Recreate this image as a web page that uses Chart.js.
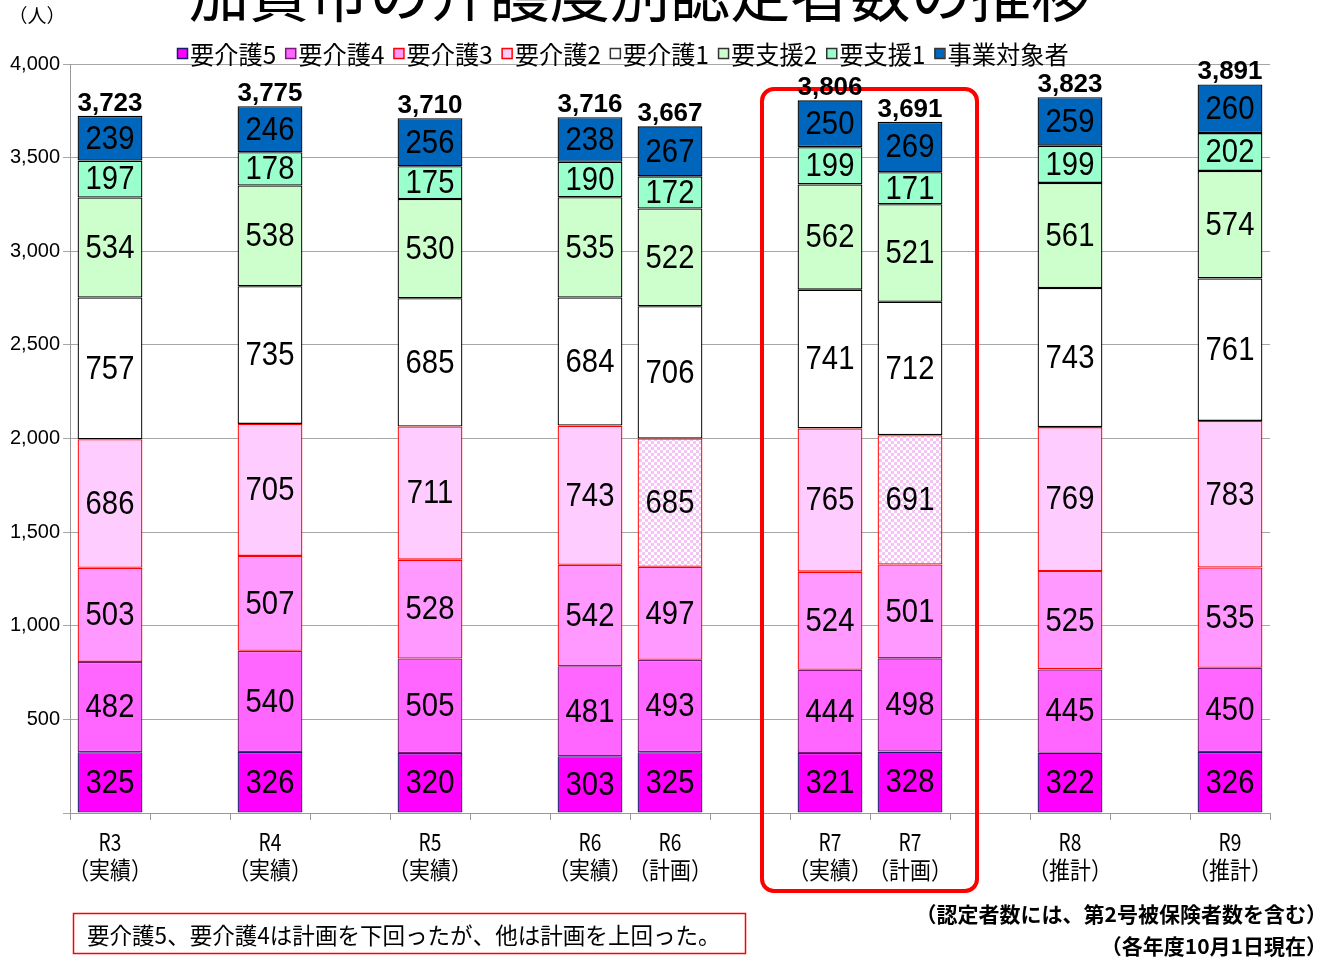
<!DOCTYPE html>
<html>
<head>
<meta charset="utf-8">
<script src="https://cdn.jsdelivr.net/npm/chart.js@4.4.1/dist/chart.umd.min.js"></script>
<style>
  html, body { margin: 0; padding: 0; background: #fff; }
</style>
</head>
<body>
<canvas id="kaigoChart" width="1333" height="962"></canvas>
<script>
// categories (empty strings are the gaps between years)
const categories = ['R3', '', 'R4', '', 'R5', '', 'R6', 'R6', '', 'R7', 'R7', '', 'R8', '', 'R9'];
const subLabels = ['（実績）', '', '（実績）', '', '（実績）', '', '（実績）', '（計画）', '', '（実績）', '（計画）', '', '（推計）', '', '（推計）'];

// series values, bottom to top
const kaigo5 = [325, null, 326, null, 320, null, 303, 325, null, 321, 328, null, 322, null, 326];
const kaigo4 = [482, null, 540, null, 505, null, 481, 493, null, 444, 498, null, 445, null, 450];
const kaigo3 = [503, null, 507, null, 528, null, 542, 497, null, 524, 501, null, 525, null, 535];
const kaigo2 = [686, null, 705, null, 711, null, 743, 685, null, 765, 691, null, 769, null, 783];
const kaigo1 = [757, null, 735, null, 685, null, 684, 706, null, 741, 712, null, 743, null, 761];
const shien2 = [534, null, 538, null, 530, null, 535, 522, null, 562, 521, null, 561, null, 574];
const shien1 = [197, null, 178, null, 175, null, 190, 172, null, 199, 171, null, 199, null, 202];
const jigyo  = [239, null, 246, null, 256, null, 238, 267, null, 250, 269, null, 259, null, 260];

const yTicks = [0, 500, 1000, 1500, 2000, 2500, 3000, 3500, 4000];

const CJK = '"Noto Sans CJK JP", sans-serif';
const LATIN = '"Liberation Sans", Arial, sans-serif';
const FULL_OPEN = '（「';
const FULL_CLOSE = '）」、。';

function drawText(ctx, text, x, y, font, sx, align, baseline, color) {
    ctx.save();
    ctx.font = font;
    ctx.fillStyle = color || '#000';
    ctx.textAlign = align || 'center';
    ctx.textBaseline = baseline || 'middle';
    ctx.translate(x, y);
    ctx.scale(sx, 1);
    ctx.fillText(text, 0, 0);
    ctx.restore();
}

// japanese text drawn char by char so full-width brackets keep their width
function drawJP(ctx, text, x, y, size, weight, sx, align, baseline, color) {
    ctx.save();
    ctx.font = (weight ? weight + ' ' : '') + size + 'px ' + CJK;
    ctx.fillStyle = color || '#000';
    ctx.textBaseline = baseline || 'middle';
    const chars = Array.from(text);
    const adv = chars.map(ch => (FULL_OPEN.includes(ch) || FULL_CLOSE.includes(ch)) ? size : ctx.measureText(ch).width);
    const total = adv.reduce((a, b) => a + b, 0);
    let cx = align === 'center' ? -total / 2 : (align === 'right' ? -total : 0);
    ctx.translate(x, y);
    ctx.scale(sx, 1);
    chars.forEach((ch, i) => {
        if (FULL_OPEN.includes(ch)) {
            ctx.textAlign = 'right';
            ctx.fillText(ch, cx + adv[i], 0);
        } else {
            ctx.textAlign = 'left';
            ctx.fillText(ch, cx, 0);
        }
        cx += adv[i];
    });
    ctx.restore();
    return total * sx;
}

// checkered fill for the planned 要介護2 segments
function makeChecker() {
    const c = document.createElement('canvas');
    c.width = 6; c.height = 6;
    const g = c.getContext('2d');
    g.fillStyle = '#ffffff';
    g.fillRect(0, 0, 6, 6);
    g.fillStyle = '#f4c4f4';
    g.fillRect(0, 0, 3, 3);
    g.fillRect(3, 3, 3, 3);
    return g.createPattern(c, 'repeat');
}
const checker = makeChecker();
const kaigo2Fill = subLabels.map(s => s === '（計画）' ? checker : '#ffccff');

const datasets = [
    { label: '要介護5', data: kaigo5, backgroundColor: '#ff00ff', borderColor: '#1a1a6e' },
    { label: '要介護4', data: kaigo4, backgroundColor: '#ff66ff', borderColor: '#7a1a7a' },
    { label: '要介護3', data: kaigo3, backgroundColor: '#ff99ff', borderColor: '#ff0000' },
    { label: '要介護2', data: kaigo2, backgroundColor: kaigo2Fill, borderColor: '#ff0000', legendFill: '#ffccff' },
    { label: '要介護1', data: kaigo1, backgroundColor: '#ffffff', borderColor: '#000000' },
    { label: '要支援2', data: shien2, backgroundColor: '#ccffcc', borderColor: '#000000' },
    { label: '要支援1', data: shien1, backgroundColor: '#99ffcc', borderColor: '#000000' },
    { label: '事業対象者', data: jigyo, backgroundColor: '#0066bb', borderColor: '#000000' }
].map(d => Object.assign(d, {
    borderWidth: 1.3,
    borderSkipped: false,
    barPercentage: 0.81,
    categoryPercentage: 1
}));

const decorPlugin = {
    id: 'decor',
    beforeDraw(chart) {
        const ctx = chart.ctx;
        ctx.save();
        ctx.fillStyle = '#fff';
        ctx.fillRect(0, 0, chart.width, chart.height);
        ctx.restore();
    },
    afterDraw(chart) {
        const ctx = chart.ctx;
        const xs = chart.scales.x;

        // title (cut at the top in the original)
        drawJP(ctx, '加賀市の介護度別認定者数の推移', 640, 17, 62, '', 0.97, 'center', 'alphabetic');
        drawJP(ctx, '（人）', 37, 16, 19, '', 1, 'center', 'middle');

        // legend
        let lx = 177;
        chart.data.datasets.forEach(ds => {
            ctx.save();
            ctx.fillStyle = ds.legendFill || ds.backgroundColor;
            ctx.fillRect(lx, 48, 10, 10);
            ctx.strokeStyle = ds.borderColor === '#000000' ? '#333' : ds.borderColor;
            ctx.lineWidth = 1.5;
            ctx.strokeRect(lx + 0.5, 48.5, 10, 10);
            ctx.restore();
            const w = drawJP(ctx, ds.label, lx + 13, 54, 25, '', 0.97, 'left', 'middle');
            lx += 13 + w + 9;
        });

        // segment values
        chart.data.datasets.forEach((ds, di) => {
            chart.getDatasetMeta(di).data.forEach((el, i) => {
                const v = ds.data[i];
                if (v == null) return;
                drawText(ctx, String(v), el.x, (el.y + el.base) / 2 + 1, '34px ' + LATIN, 0.86, 'center', 'middle');
            });
        });

        // red frame around R7
        const r7a = xs.getPixelForValue(9);
        const r7b = xs.getPixelForValue(10);
        ctx.save();
        ctx.strokeStyle = '#ff0000';
        ctx.lineWidth = 4;
        ctx.beginPath();
        ctx.roundRect(r7a - 68, 89, (r7b + 67) - (r7a - 68), 802, 12);
        ctx.stroke();
        ctx.restore();

        // totals above bars
        const topMeta = chart.getDatasetMeta(chart.data.datasets.length - 1);
        categories.forEach((c, i) => {
            if (!c) return;
            const total = chart.data.datasets.reduce((s, ds) => s + (ds.data[i] || 0), 0);
            const el = topMeta.data[i];
            drawText(ctx, total.toLocaleString('en-US'), el.x, el.y - 5, 'bold 26px ' + LATIN, 1, 'center', 'alphabetic');
        });

        // x labels
        categories.forEach((c, i) => {
            if (!c) return;
            const x = xs.getPixelForValue(i);
            drawText(ctx, c, x, 842, '24px ' + CJK, 0.8, 'center', 'middle');
            drawJP(ctx, subLabels[i], x, 870, 24, '', 0.87, 'center', 'middle');
        });

        // note box
        ctx.save();
        ctx.strokeStyle = '#ff0000';
        ctx.lineWidth = 1.5;
        ctx.strokeRect(73.5, 913.5, 672, 40);
        ctx.restore();
        drawJP(ctx, '要介護5、要介護4は計画を下回ったが、他は計画を上回った。', 87, 935, 23, '', 0.98, 'left', 'middle');

        drawJP(ctx, '（認定者数には、第2号被保険者数を含む）', 1327, 914, 21, 'bold', 1, 'right', 'middle');
        drawJP(ctx, '（各年度10月1日現在）', 1327, 946, 21, 'bold', 1, 'right', 'middle');
    }
};

const kaigoChart = new Chart(document.getElementById('kaigoChart'), {
    type: 'bar',
    data: { labels: categories, datasets: datasets },
    options: {
        responsive: false,
        animation: false,
        devicePixelRatio: 1,
        layout: { padding: { left: 0, right: 63, top: 64, bottom: 0 } },
        plugins: {
            legend: { display: false },
            tooltip: { enabled: false }
        },
        scales: {
            x: {
                stacked: true,
                grid: { offset: true, drawOnChartArea: false, tickLength: 7, color: '#999' },
                border: { color: '#999' },
                ticks: { display: false },
                afterFit(scale) { scale.height = 149; }
            },
            y: {
                stacked: true,
                min: yTicks[0],
                max: yTicks[yTicks.length - 1],
                afterBuildTicks(scale) { scale.ticks = yTicks.map(v => ({ value: v })); },
                grid: { color: '#a6a6a6', tickLength: 7 },
                border: { color: '#999' },
                ticks: {
                    padding: 3,
                    color: '#000',
                    font: { family: LATIN, size: 20 },
                    callback: v => v === 0 ? '' : v.toLocaleString('en-US')
                },
                afterFit(scale) { scale.width = 70; }
            }
        }
    },
    plugins: [decorPlugin]
});
</script>
</body>
</html>
